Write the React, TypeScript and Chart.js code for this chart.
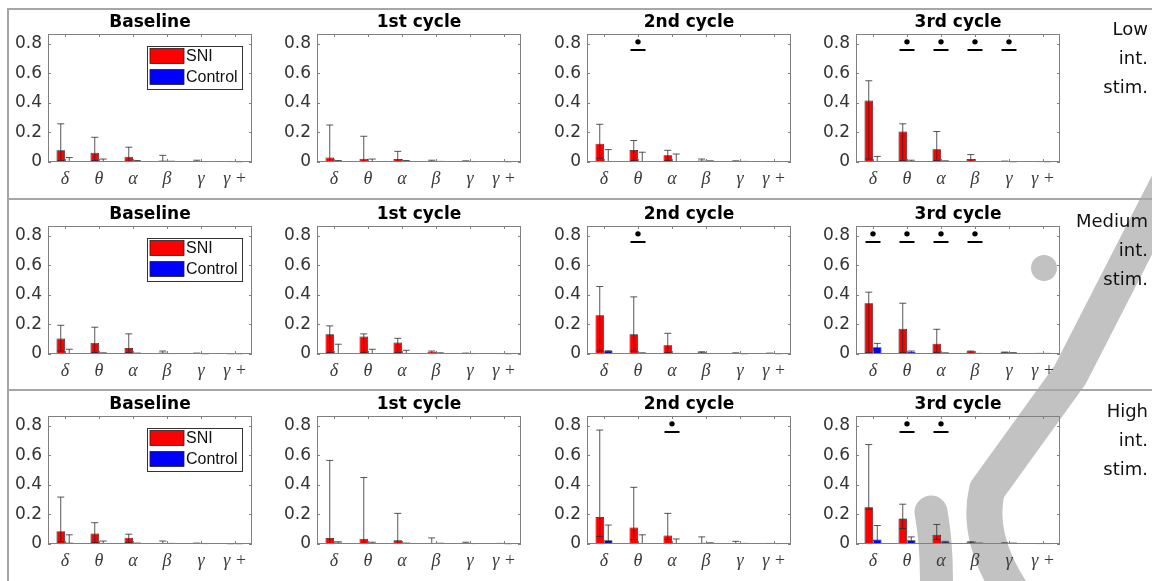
import React, { useEffect, useRef } from 'react';
import { Chart, registerables } from 'chart.js';

Chart.register(...registerables);

// ---------------- data ----------------
const categories = ['δ', 'θ', 'α', 'β', 'γ', 'γ +'];
const panelTitles = ['Baseline', '1st cycle', '2nd cycle', '3rd cycle'];
const rowLabels = [
  ['Low', 'int.', 'stim.'],
  ['Medium', 'int.', 'stim.'],
  ['High', 'int.', 'stim.'],
];
const seriesNames = ['SNI', 'Control'];
const yTickValues = [0, 0.2, 0.4, 0.6, 0.8];
const yMax = 0.865;
const sigDotValue = 0.812;
const sigLineValue = 0.757;

// Low intensity stimulation (4 panels: Baseline, 1st, 2nd, 3rd cycle)
const lowSniMean = [
  [0.079, 0.063, 0.036, 0.01, 0.003, 0.001],
  [0.03, 0.022, 0.02, 0.008, 0.004, 0.001],
  [0.124, 0.081, 0.045, 0.01, 0.003, 0.001],
  [0.416, 0.206, 0.086, 0.02, 0.004, 0.002],
];
const lowSniHigh = [
  [0.258, 0.167, 0.1, 0.045, 0.012, 0.003],
  [0.25, 0.174, 0.072, 0.012, 0.008, 0.003],
  [0.255, 0.145, 0.079, 0.02, 0.008, 0.003],
  [0.549, 0.258, 0.206, 0.05, 0.006, 0.003],
];
const lowSniLow = [
  [0.01, 0.01, 0.005, 0, 0, 0],
  [0, 0, 0, 0, 0, 0],
  [0.025, 0.01, 0.01, 0, 0, 0],
  [0.02, 0.01, 0.01, 0, 0, 0],
];
const lowCtlMean = [
  [0.005, 0.003, 0.003, 0.002, 0.001, 0.001],
  [0.005, 0.003, 0.003, 0.002, 0.002, 0.001],
  [0.003, 0.003, 0.003, 0.003, 0.002, 0.001],
  [0.004, 0.005, 0.003, 0.001, 0.001, 0.001],
];
const lowCtlHigh = [
  [0.03, 0.02, 0.01, 0.005, 0.003, 0.002],
  [0.01, 0.02, 0.01, 0.004, 0.003, 0.002],
  [0.084, 0.066, 0.054, 0.008, 0.004, 0.003],
  [0.038, 0.012, 0.008, 0.003, 0.002, 0.002],
];
const lowSig = [[], [], [1], [1, 2, 3, 4]];

// Medium intensity stimulation
const medSniMean = [
  [0.104, 0.075, 0.041, 0.01, 0.004, 0.001],
  [0.133, 0.118, 0.077, 0.016, 0.004, 0.002],
  [0.262, 0.133, 0.059, 0.012, 0.003, 0.002],
  [0.343, 0.17, 0.07, 0.018, 0.011, 0.003],
];
const medSniHigh = [
  [0.194, 0.181, 0.136, 0.02, 0.006, 0.002],
  [0.19, 0.136, 0.106, 0.02, 0.006, 0.003],
  [0.456, 0.386, 0.14, 0.015, 0.008, 0.006],
  [0.418, 0.343, 0.167, 0.02, 0.013, 0.004],
];
const medSniLow = [
  [0.02, 0.01, 0.01, 0, 0, 0],
  [0.01, 0.01, 0.01, 0, 0, 0],
  [0.02, 0.02, 0.01, 0, 0, 0],
  [0.01, 0.01, 0.01, 0, 0, 0],
];
const medCtlMean = [
  [0.003, 0.003, 0.004, 0.002, 0.001, 0.001],
  [0.003, 0.003, 0.003, 0.003, 0.002, 0.001],
  [0.02, 0.006, 0.003, 0.002, 0.001, 0.001],
  [0.045, 0.016, 0.006, 0.003, 0.008, 0.003],
];
const medCtlHigh = [
  [0.032, 0.008, 0.006, 0.003, 0.002, 0.002],
  [0.066, 0.032, 0.025, 0.008, 0.003, 0.002],
  [0.022, 0.008, 0.004, 0.003, 0.002, 0.002],
  [0.072, 0.02, 0.008, 0.004, 0.009, 0.004],
];
const medSig = [[], [], [1], [0, 1, 2, 3]];

// High intensity stimulation
const highSniMean = [
  [0.087, 0.071, 0.043, 0.006, 0.004, 0.001],
  [0.041, 0.036, 0.025, 0.006, 0.004, 0.002],
  [0.182, 0.112, 0.057, 0.008, 0.004, 0.002],
  [0.248, 0.173, 0.062, 0.012, 0.006, 0.002],
];
const highSniHigh = [
  [0.317, 0.144, 0.066, 0.02, 0.006, 0.002],
  [0.565, 0.449, 0.207, 0.041, 0.012, 0.004],
  [0.77, 0.383, 0.207, 0.048, 0.018, 0.004],
  [0.672, 0.269, 0.132, 0.015, 0.008, 0.003],
];
const highSniLow = [
  [0.015, 0.01, 0.01, 0, 0, 0],
  [0, 0, 0, 0, 0, 0],
  [0.05, 0.03, 0.03, 0, 0, 0],
  [0.235, 0.105, 0.03, 0, 0, 0],
];
const highCtlMean = [
  [0.01, 0.003, 0.003, 0.002, 0.001, 0.001],
  [0.01, 0.006, 0.004, 0.003, 0.002, 0.001],
  [0.025, 0.006, 0.005, 0.003, 0.003, 0.002],
  [0.03, 0.025, 0.014, 0.004, 0.005, 0.002],
];
const highCtlHigh = [
  [0.062, 0.02, 0.006, 0.004, 0.003, 0.002],
  [0.015, 0.012, 0.006, 0.005, 0.003, 0.002],
  [0.128, 0.062, 0.034, 0.008, 0.004, 0.003],
  [0.125, 0.048, 0.018, 0.006, 0.006, 0.003],
];
const highSig = [[], [], [2], [1, 2]];

const rows = [
  { sniMean: lowSniMean, sniHigh: lowSniHigh, sniLow: lowSniLow, ctlMean: lowCtlMean, ctlHigh: lowCtlHigh, sig: lowSig },
  { sniMean: medSniMean, sniHigh: medSniHigh, sniLow: medSniLow, ctlMean: medCtlMean, ctlHigh: medCtlHigh, sig: medSig },
  { sniMean: highSniMean, sniHigh: highSniHigh, sniLow: highSniLow, ctlMean: highCtlMean, ctlHigh: highCtlHigh, sig: highSig },
];

// ---------------- layout ----------------
const PLOT_LEFTS = [48, 317, 587, 856];
const PLOT_TOPS = [34, 226, 416];
const PLOT_W = 204;
const PLOT_H = 128;
const AXIS_W = 46;
const PAD_TOP = 30;
const PAD_RIGHT = 8;
const XAXIS_H = 34;
const CANVAS_W = AXIS_W + PLOT_W + PAD_RIGHT;
const CANVAS_H = PAD_TOP + PLOT_H + XAXIS_H;

const SNI_COLOR = '#ff0000';
const CTL_COLOR = '#0000ff';

function makeDecorPlugin(info: any) {
  return {
    id: 'panelDecor',
    afterDatasetsDraw(chart: any) {
      const ctx = chart.ctx;
      const ys = chart.scales.y;
      const sets = [
        [0, info.sniHigh, info.sniLow],
        [1, info.ctlHigh, null],
      ];
      ctx.save();
      ctx.strokeStyle = '#2b2b2b';
      ctx.lineWidth = 0.8;
      sets.forEach(([di, hi, lo]: any) => {
        const meta = chart.getDatasetMeta(di);
        meta.data.forEach((bar: any, j: number) => {
          const x = bar.x;
          const yh = ys.getPixelForValue(hi[j]);
          const yl = ys.getPixelForValue(lo ? lo[j] : 0);
          ctx.beginPath();
          ctx.moveTo(x, yl);
          ctx.lineTo(x, yh);
          ctx.moveTo(x - 3.5, yh);
          ctx.lineTo(x + 3.5, yh);
          if (lo && lo[j] > 0) {
            ctx.moveTo(x - 3.5, yl);
            ctx.lineTo(x + 3.5, yl);
          }
          ctx.stroke();
        });
      });
      ctx.restore();
    },
    afterDraw(chart: any) {
      const ctx = chart.ctx;
      const ca = chart.chartArea;
      const xs = chart.scales.x;
      const ys = chart.scales.y;
      ctx.save();
      ctx.strokeStyle = '#808080';
      ctx.lineWidth = 1;
      ctx.strokeRect(ca.left + 0.5, ca.top + 0.5, ca.right - ca.left - 1, ca.bottom - ca.top - 1);
      ctx.beginPath();
      yTickValues.forEach((v) => {
        const py = Math.round(ys.getPixelForValue(v)) + 0.5;
        ctx.moveTo(ca.left, py);
        ctx.lineTo(ca.left + 3, py);
        ctx.moveTo(ca.right - 3, py);
        ctx.lineTo(ca.right, py);
      });
      categories.forEach((_c, i) => {
        const px = Math.round(xs.getPixelForValue(i)) + 0.5;
        ctx.moveTo(px, ca.top);
        ctx.lineTo(px, ca.top + 3);
        ctx.moveTo(px, ca.bottom);
        ctx.lineTo(px, ca.bottom - 3);
      });
      ctx.stroke();

      ctx.fillStyle = '#000';
      ctx.font = 'bold 17px "DejaVu Sans"';
      ctx.textAlign = 'center';
      ctx.textBaseline = 'middle';
      ctx.fillText(info.title, (ca.left + ca.right) / 2, ca.top - 11);

      info.sig.forEach((k: number) => {
        const px = xs.getPixelForValue(k);
        const pd = ys.getPixelForValue(sigDotValue);
        const pl = ys.getPixelForValue(sigLineValue);
        ctx.fillStyle = '#000';
        ctx.beginPath();
        ctx.arc(px, pd, 2.7, 0, Math.PI * 2);
        ctx.fill();
        ctx.strokeStyle = '#000';
        ctx.lineWidth = 2;
        ctx.beginPath();
        ctx.moveTo(px - 7.5, pl);
        ctx.lineTo(px + 7.5, pl);
        ctx.stroke();
      });

      if (info.showLegend) {
        const lx = ca.left + 99;
        const ly = ca.top + 12;
        ctx.fillStyle = '#fff';
        ctx.fillRect(lx, ly, 95, 43);
        ctx.strokeStyle = '#333';
        ctx.lineWidth = 1;
        ctx.strokeRect(lx + 0.5, ly + 0.5, 95, 43);
        const colors = [SNI_COLOR, CTL_COLOR];
        seriesNames.forEach((name, i) => {
          const sy = ly + 2.5 + i * 21;
          ctx.fillStyle = colors[i];
          ctx.fillRect(lx + 3, sy, 34, 15);
          ctx.strokeStyle = '#222';
          ctx.lineWidth = 0.8;
          ctx.strokeRect(lx + 3, sy, 34, 15);
          ctx.fillStyle = '#111';
          ctx.font = '16px "Liberation Sans"';
          ctx.textAlign = 'left';
          ctx.textBaseline = 'middle';
          ctx.fillText(name, lx + 39, sy + 8);
        });
      }
      ctx.restore();
    },
  };
}

function Panel({ r, c }: { r: number; c: number }) {
  const ref = useRef<HTMLCanvasElement>(null);
  useEffect(() => {
    const row = rows[r];
    const info = {
      title: panelTitles[c],
      sniHigh: row.sniHigh[c],
      sniLow: row.sniLow[c],
      ctlHigh: row.ctlHigh[c],
      sig: row.sig[c],
      showLegend: c === 0,
    };
    const chart = new Chart(ref.current as HTMLCanvasElement, {
      type: 'bar',
      data: {
        labels: categories,
        datasets: [
          {
            label: seriesNames[0],
            data: row.sniMean[c],
            backgroundColor: SNI_COLOR,
            borderColor: '#1a1a1a',
            borderWidth: 0.7,
            categoryPercentage: 0.5,
            barPercentage: 1,
          },
          {
            label: seriesNames[1],
            data: row.ctlMean[c],
            backgroundColor: CTL_COLOR,
            borderColor: '#1a1a1a',
            borderWidth: 0.7,
            categoryPercentage: 0.5,
            barPercentage: 1,
          },
        ],
      },
      options: {
        responsive: false,
        maintainAspectRatio: false,
        animation: false,
        devicePixelRatio: 1,
        layout: { padding: { top: PAD_TOP, right: PAD_RIGHT, left: 0, bottom: 0 } },
        plugins: {
          legend: { display: false },
          tooltip: { enabled: false },
          title: { display: false },
        },
        scales: {
          x: {
            grid: { display: false, drawTicks: false },
            border: { display: false },
            ticks: {
              font: { family: '"Liberation Serif"', style: 'italic', size: 18 },
              color: '#3a3a3a',
              padding: 6,
              maxRotation: 0,
              autoSkip: false,
            },
            afterFit: (s: any) => {
              s.height = XAXIS_H;
            },
          },
          y: {
            min: 0,
            max: yMax,
            grid: { display: false, drawTicks: false },
            border: { display: false },
            afterBuildTicks: (s: any) => {
              s.ticks = yTickValues.map((v) => ({ value: v }));
            },
            ticks: {
              font: { family: '"DejaVu Sans"', size: 17 },
              color: '#333',
              padding: 6,
              callback: (v: any) => String(v),
            },
            afterFit: (s: any) => {
              s.width = AXIS_W;
            },
          },
        },
      } as any,
      plugins: [makeDecorPlugin(info)],
    });
    return () => chart.destroy();
  }, [r, c]);
  return (
    <canvas
      ref={ref}
      width={CANVAS_W}
      height={CANVAS_H}
      style={{
        position: 'absolute',
        left: PLOT_LEFTS[c] - AXIS_W,
        top: PLOT_TOPS[r] - PAD_TOP,
        width: CANVAS_W,
        height: CANVAS_H,
      }}
    />
  );
}

// faint watermark drawn behind the charts
function Watermark() {
  const ref = useRef<HTMLCanvasElement>(null);
  useEffect(() => {
    const cv = ref.current as HTMLCanvasElement;
    const ctx = cv.getContext('2d') as CanvasRenderingContext2D;
    ctx.clearRect(0, 0, 1152, 581);
    ctx.fillStyle = '#c2c2c2';
    ctx.strokeStyle = '#c2c2c2';
    ctx.lineCap = 'round';
    ctx.lineJoin = 'round';
    ctx.beginPath();
    ctx.arc(1044, 268, 13, 0, Math.PI * 2);
    ctx.fill();
    ctx.lineWidth = 36;
    ctx.beginPath();
    ctx.moveTo(1175, 170);
    ctx.lineTo(1070, 375);
    ctx.quadraticCurveTo(1030, 430, 987, 490);
    ctx.quadraticCurveTo(975, 540, 1017, 600);
    ctx.stroke();
    ctx.lineWidth = 33;
    ctx.beginPath();
    ctx.moveTo(931, 512);
    ctx.quadraticCurveTo(938, 550, 936, 600);
    ctx.stroke();
  }, []);
  return (
    <canvas
      ref={ref}
      width={1152}
      height={581}
      style={{ position: 'absolute', left: 0, top: 0, width: 1152, height: 581 }}
    />
  );
}

const SEP_TOPS = [8, 198, 389];

export default function App() {
  return (
    <div
      style={{
        position: 'absolute',
        left: 0,
        top: 0,
        width: 1152,
        height: 581,
        overflow: 'hidden',
        background: '#fff',
      }}
    >
      <Watermark />
      {SEP_TOPS.map((t, i) => (
        <div
          key={'sep' + i}
          style={{ position: 'absolute', left: 8, top: t, width: 1144, height: 2, background: '#a6a6a6' }}
        />
      ))}
      <div style={{ position: 'absolute', left: 7, top: 8, width: 2, height: 573, background: '#a6a6a6' }} />
      {rows.map((_row, r) =>
        panelTitles.map((_t, c) => <Panel key={r + '-' + c} r={r} c={c} />)
      )}
      {rowLabels.map((lines, r) =>
        lines.map((txt, k) => (
          <div
            key={'rl' + r + k}
            style={{
              position: 'absolute',
              right: 4,
              top: PLOT_TOPS[r] - 5 + 29 * k - 13,
              height: 26,
              lineHeight: '26px',
              fontFamily: '"DejaVu Sans"',
              fontSize: 18,
              color: '#111',
              whiteSpace: 'nowrap',
              textAlign: 'right',
            }}
          >
            {txt}
          </div>
        ))
      )}
    </div>
  );
}
